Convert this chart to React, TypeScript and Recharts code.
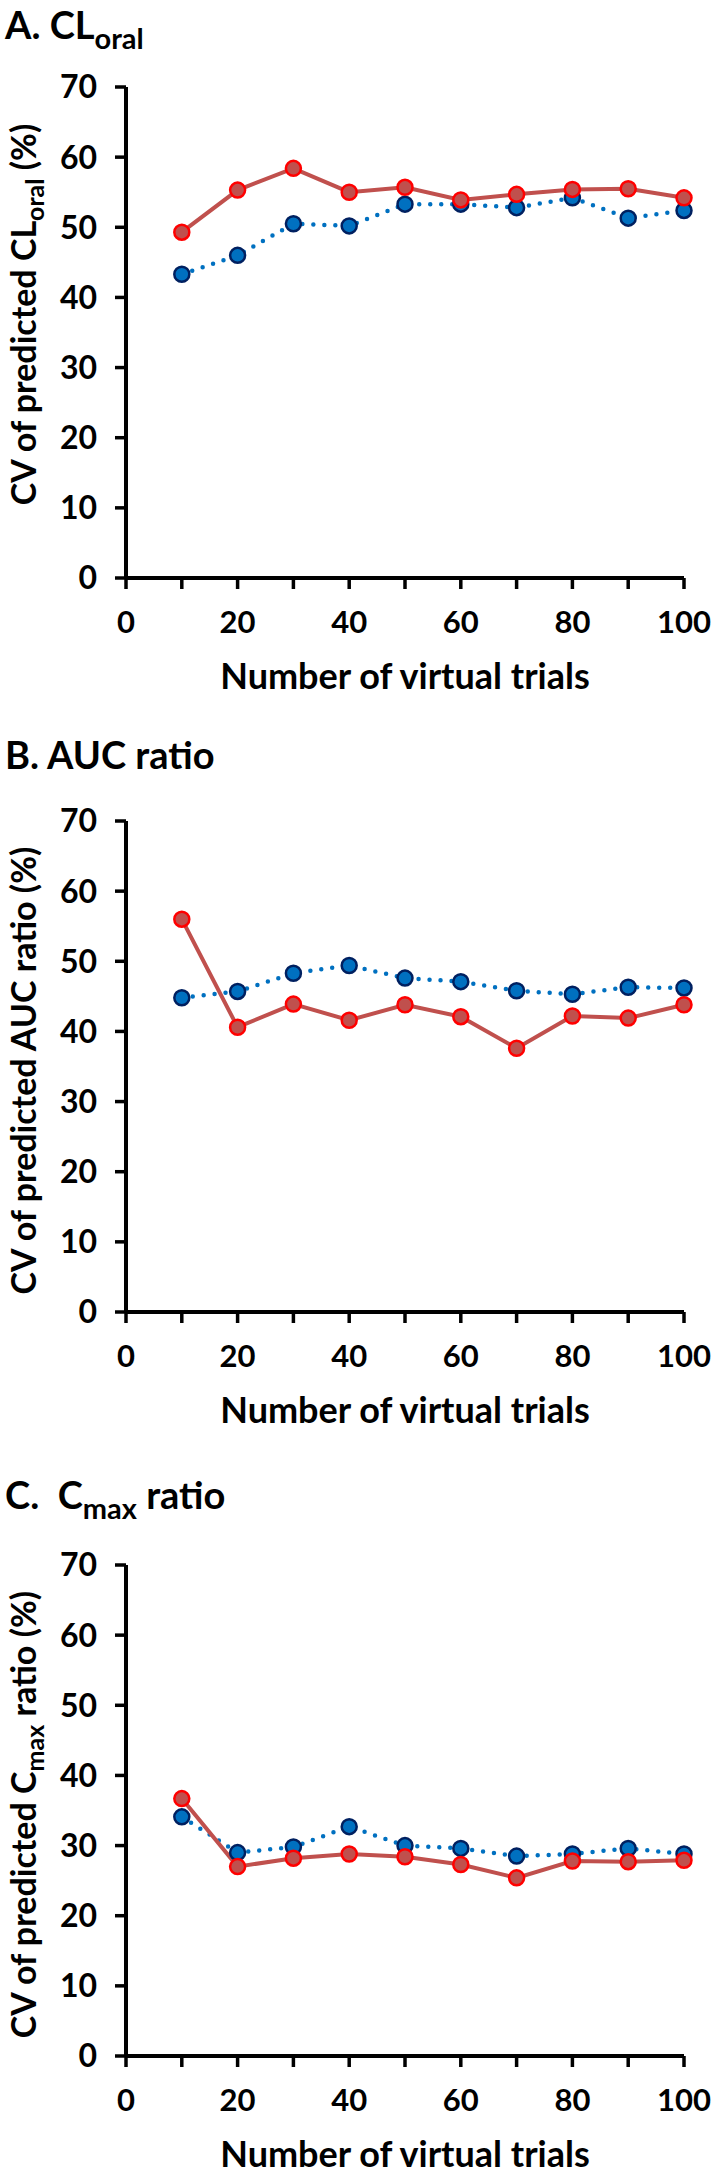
import { LineChart, Line, XAxis, YAxis } from 'recharts';

// number of virtual trials (x)
const trials = [10, 20, 30, 40, 50, 60, 70, 80, 90, 100];

// A. CL oral
const clBlue = [43.3, 46.0, 50.5, 50.2, 53.3, 53.3, 52.8, 54.2, 51.3, 52.4];
const clRed = [49.3, 55.3, 58.4, 55.0, 55.7, 53.9, 54.7, 55.4, 55.5, 54.2];

// B. AUC ratio
const aucBlue = [44.8, 45.7, 48.3, 49.4, 47.6, 47.1, 45.8, 45.3, 46.3, 46.2];
const aucRed = [56.0, 40.6, 43.9, 41.6, 43.8, 42.1, 37.6, 42.2, 41.9, 43.8];

// C. Cmax ratio
const cmaxBlue = [34.1, 29.0, 29.8, 32.7, 30.0, 29.6, 28.5, 28.8, 29.6, 28.8];
const cmaxRed = [36.7, 27.0, 28.2, 28.8, 28.4, 27.3, 25.4, 27.8, 27.7, 27.9];

const xTicks = [0, 10, 20, 30, 40, 50, 60, 70, 80, 90, 100];
const yTicks = [0, 10, 20, 30, 40, 50, 60, 70];

const FONT = 'Lato, "Open Sans", sans-serif';
const W = 711;
const PLOT_TOP = 87;
const PLOT_H = 491;
const Y_AXIS_W = 126;
const RIGHT = 27;
const X_AXIS_H = 112;
const PANEL_H = PLOT_TOP + PLOT_H + X_AXIS_H + 3;
const PAD = 14; // overlay svg starts a bit above the panel so titles are not clipped

type Part = { text: string; sub?: boolean };

type PanelDef = {
  top: number;
  titleY: number;
  title: Part[];
  yLabel: Part[];
  yShift: number;
  blue: number[];
  red: number[];
};

const panels: PanelDef[] = [
  {
    top: 0,
    titleY: 39,
    title: [{ text: 'A. CL' }, { text: 'oral', sub: true }],
    yLabel: [{ text: 'CV of predicted CL' }, { text: 'oral', sub: true }, { text: ' (%)' }],
    yShift: -18,
    blue: clBlue,
    red: clRed,
  },
  {
    top: 734,
    titleY: 35,
    title: [{ text: 'B. AUC ratio' }],
    yLabel: [{ text: 'CV of predicted AUC ratio (%)' }],
    yShift: 4,
    blue: aucBlue,
    red: aucRed,
  },
  {
    top: 1478,
    titleY: 31,
    title: [{ text: 'C.  C' }, { text: 'max', sub: true }, { text: ' ratio' }],
    yLabel: [{ text: 'CV of predicted C' }, { text: 'max', sub: true }, { text: ' ratio (%)' }],
    yShift: 4,
    blue: cmaxBlue,
    red: cmaxRed,
  },
];

function renderParts(parts: Part[], subSize: number, shift: number) {
  let down = 0;
  return parts.map((p, i) => {
    const target = p.sub ? shift : 0;
    const dy = target - down;
    down = target;
    return (
      <tspan key={i} dy={dy} fontSize={p.sub ? subSize : undefined} style={{ whiteSpace: 'pre' }}>
        {p.text}
      </tspan>
    );
  });
}

function Panel({ def, first }: { def: PanelDef; first: boolean }) {
  const data = trials.map((x, i) => ({ x, blue: def.blue[i], red: def.red[i] }));
  const plotCx = Y_AXIS_W + (W - Y_AXIS_W - RIGHT) / 2;
  const yCy = PLOT_TOP + PLOT_H / 2 + def.yShift;
  const axisY = PLOT_TOP + PLOT_H;
  const labelX = 36;
  const pad = first ? 0 : PAD;

  return (
    <div style={{ position: 'absolute', left: 0, top: def.top, width: W, height: PANEL_H + 20 }}>
      <LineChart
        width={W}
        height={PANEL_H}
        data={data}
        margin={{ top: PLOT_TOP, right: RIGHT, bottom: 3, left: 0 }}
      >
        <XAxis
          dataKey="x"
          type="number"
          domain={[0, 100]}
          ticks={xTicks}
          interval={0}
          height={X_AXIS_H}
          tickSize={11}
          tickMargin={22}
          tickFormatter={(v: number) => (v % 20 === 0 ? String(v) : '')}
          tick={{ fill: '#000', fontSize: 31, fontWeight: 700, fontFamily: FONT }}
          axisLine={{ stroke: '#000', strokeWidth: 4 }}
          tickLine={{ stroke: '#000', strokeWidth: 3.5 }}
        />
        <YAxis
          type="number"
          domain={[0, 70]}
          ticks={yTicks}
          interval={0}
          width={Y_AXIS_W}
          tickSize={11}
          tickMargin={18}
          tick={{ fill: '#000', fontSize: 32, fontWeight: 700, fontFamily: FONT }}
          axisLine={{ stroke: '#000', strokeWidth: 4 }}
          tickLine={{ stroke: '#000', strokeWidth: 3.5 }}
        />
        <Line
          dataKey="blue"
          stroke="#0070C0"
          strokeWidth={4.5}
          strokeDasharray="0 11"
          strokeLinecap="round"
          dot={{ r: 7.5, fill: '#0070C0', stroke: '#002060', strokeWidth: 2.5, strokeDasharray: 'none' }}
          activeDot={false}
          isAnimationActive={false}
        />
        <Line
          dataKey="red"
          stroke="#C0504D"
          strokeWidth={4}
          dot={{ r: 7.5, fill: '#C0504D', stroke: '#FF0000', strokeWidth: 2.5 }}
          activeDot={false}
          isAnimationActive={false}
        />
      </LineChart>
      <svg
        width={W}
        height={PANEL_H + 20 + pad}
        style={{ position: 'absolute', left: 0, top: -pad, pointerEvents: 'none' }}
        fontFamily={FONT}
        fontWeight={700}
        fill="#000"
      >
        <g transform={`translate(0, ${pad})`}>
          <text x={5} y={def.titleY} fontSize={38}>
            {renderParts(def.title, 29, 10)}
          </text>
          <text
            x={labelX}
            y={yCy}
            fontSize={34}
            textAnchor="middle"
            transform={`rotate(-90, ${labelX}, ${yCy})`}
          >
            {renderParts(def.yLabel, 25, 8)}
          </text>
          <text x={plotCx} y={axisY + 111} fontSize={36} textAnchor="middle">
            Number of virtual trials
          </text>
        </g>
      </svg>
    </div>
  );
}

export default function App() {
  return (
    <div
      style={{
        position: 'absolute',
        left: 0,
        top: 0,
        width: W,
        height: 2171,
        overflow: 'hidden',
        background: '#fff',
      }}
    >
      {panels.map((p, i) => (
        <Panel key={i} def={p} first={i === 0} />
      ))}
    </div>
  );
}
